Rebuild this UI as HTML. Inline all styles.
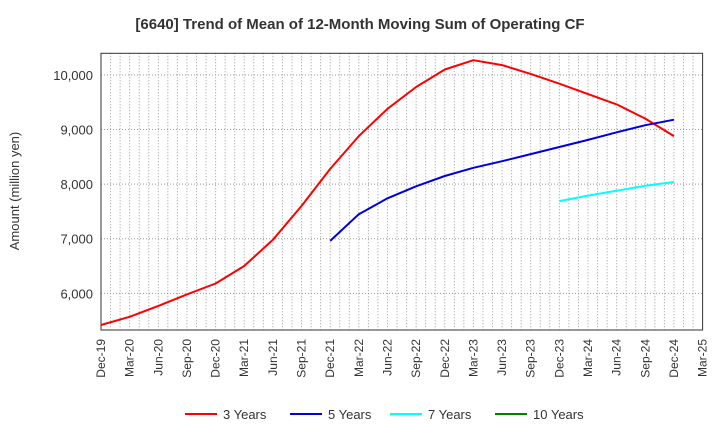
<!DOCTYPE html>
<html><head><meta charset="utf-8"><style>
body{margin:0;background:#fff;font-family:"Liberation Sans",Arial,sans-serif;}
svg{display:block}
</style></head><body>
<svg id="c" width="720" height="440"></svg>
<script>
const xLabels=["Dec-19","Mar-20","Jun-20","Sep-20","Dec-20","Mar-21","Jun-21","Sep-21","Dec-21","Mar-22","Jun-22","Sep-22","Dec-22","Mar-23","Jun-23","Sep-23","Dec-23","Mar-24","Jun-24","Sep-24","Dec-24","Mar-25"];
const yTicks=[6000,7000,8000,9000,10000];
const s3=[5420,5570,5770,5980,6180,6500,6980,7600,8280,8880,9380,9780,10100,10270,10180,10020,9840,9650,9460,9200,8880];
const s5=[6960,7450,7740,7960,8150,8300,8420,8550,8680,8810,8950,9080,9180];
const s7=[7690,7790,7880,7970,8040];
const s10=[];
const L=101,R=702.6,T=53.3,B=330,yMin=5328,yMax=10397;
const X=q=>L+(R-L)*q/21;
const Y=v=>B-(v-yMin)/(yMax-yMin)*(B-T);
const svg=document.getElementById('c');
const NS='http://www.w3.org/2000/svg';
function mk(tag,a,txt){const e=document.createElementNS(NS,tag);for(const k in a)e.setAttribute(k,a[k]);if(txt!==undefined)e.textContent=txt;svg.appendChild(e);return e;}
let t=mk('text',{x:360,y:29,'text-anchor':'middle','font-size':15,'font-weight':'bold',fill:'#333'},'[6640]  Trend of Mean of 12-Month Moving Sum of Operating CF');


for(let m=1;m<63;m++){const x=L+(R-L)*m/63;
let g=mk('line',{x1:x,x2:x,y1:T,y2:B,stroke:'#999','stroke-width':1,'stroke-dasharray':'1,2'});

}
yTicks.forEach(v=>{let g=mk('line',{x1:L,x2:R,y1:Y(v),y2:Y(v),stroke:'#999','stroke-width':1,'stroke-dasharray':'1,2'});


let tl=mk('text',{x:L-8,y:Y(v)+5,'text-anchor':'end','font-size':13,fill:'#333'},v.toLocaleString('en-US'));

});
xLabels.forEach((lb,i)=>{const x=X(i);
let tl=mk('text',{x:x+4,y:339,'text-anchor':'end','font-size':12,fill:'#333',transform:`rotate(-90 ${x+4} 339)`},lb);

});
let f=mk('rect',{x:L,y:T,width:R-L,height:B-T,fill:'none',stroke:'#333','stroke-width':1});


let yt=mk('text',{x:19,y:191,'text-anchor':'middle','font-size':13,fill:'#333',transform:'rotate(-90 19 191)'},'Amount (million yen)');


function line(data,start,color,name){if(!data.length)return;
const d=data.map((v,i)=>(i?'L':'M')+X(start+i).toFixed(1)+','+Y(v).toFixed(1)).join(' ');
let p=mk('path',{d,fill:'none',stroke:color,'stroke-width':2,'stroke-linejoin':'round'});

}
line(s3,0,'#ff0000','series-3-years');
line(s5,8,'#0000dd','series-5-years');
line(s7,16,'#00ffff','series-7-years');
line(s10,20,'#008000','series-10-years');
[['3 Years','#ff0000',185],['5 Years','#0000dd',290],['7 Years','#00ffff',390],['10 Years','#008000',495]].forEach(([n,c,x])=>{
let l=mk('line',{x1:x,x2:x+32,y1:414,y2:414,stroke:c,'stroke-width':2});


let tx=mk('text',{x:x+38,y:419,'font-size':13,fill:'#333'},n);

});
</script>
</body></html>
